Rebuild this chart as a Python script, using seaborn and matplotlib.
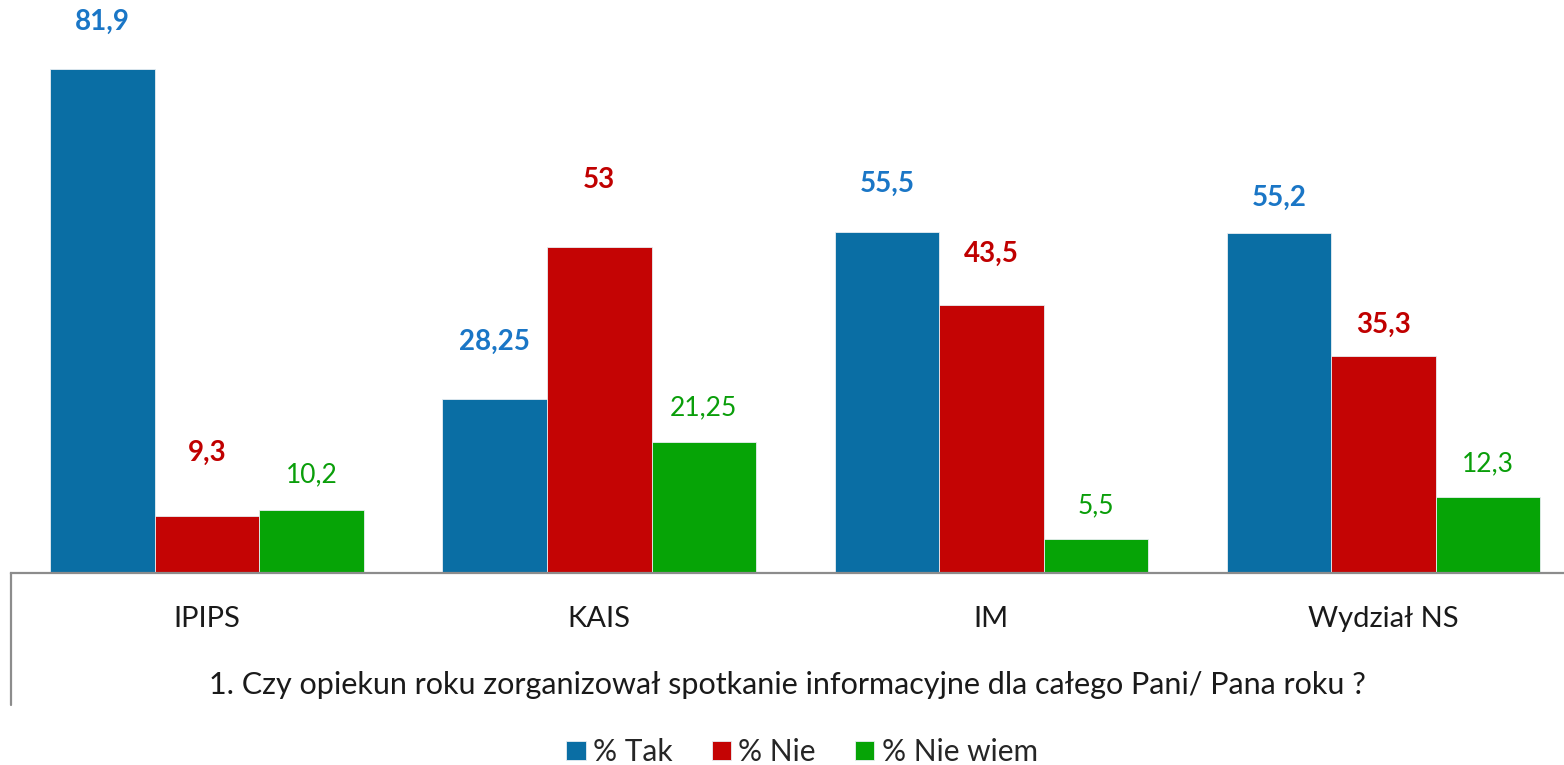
import pandas as pd
import seaborn as sns
import matplotlib.pyplot as plt
from matplotlib.lines import Line2D

# chart data
categories = ["IPIPS", "KAIS", "IM", "Wydział NS"]
series = ["% Tak", "% Nie", "% Nie wiem"]
tak = [81.9, 28.25, 55.5, 55.2]
nie = [9.3, 53, 43.5, 35.3]
nie_wiem = [10.2, 21.25, 5.5, 12.3]
question = "1. Czy opiekun roku zorganizował spotkanie informacyjne dla całego Pani/ Pana roku ?"

bar_colors = ["#0a6ea4", "#c40404", "#06a406"]
text_colors = ["#1a76c6", "#c00000", "#0a9e0a"]
text_weights = ["bold", "bold", "normal"]
text_sizes = [20, 20, 19]
# gap between bar top and label centre, in pixels (as in the original)
label_gap = [[47, 57, 48, 35], [63, 67, 51, 31], [35, 34, 33, 34]]

df = pd.DataFrame({
    "kategoria": categories * 3,
    "seria": [s for s in series for _ in categories],
    "wartosc": tak + nie + nie_wiem,
})

sns.set_theme(style="white")
plt.rcParams["font.family"] = ["Lato", "DejaVu Sans"]

fig = plt.figure(figsize=(15.64, 7.65), dpi=100)
ax = fig.add_axes([11 / 1564, 192 / 765, 1 - 11 / 1564, 563 / 765])

sns.barplot(data=df, x="kategoria", y="wartosc", hue="seria", palette=bar_colors,
            width=0.8, saturation=1, ax=ax, legend=True, edgecolor="#e8eef2", linewidth=0.6)

for i, cont in enumerate(ax.containers):
    for j, bar in enumerate(cont):
        v = bar.get_height()
        ax.annotate(f"{v:g}".replace(".", ","),
                    (bar.get_x() + bar.get_width() / 2, v),
                    xytext=(0, label_gap[i][j] * 0.72), textcoords="offset points",
                    ha="center", va="center", fontsize=text_sizes[i],
                    color=text_colors[i], fontweight=text_weights[i])

ax.set_xlim(-0.5, 3.46)
ax.set_ylim(0, 91.5)
ax.set_yticks([])
ax.set_xlabel(question, fontsize=22, labelpad=28, color="#1a1a1a")
ax.set_ylabel("")
ax.tick_params(axis="x", length=0, pad=24, labelsize=21, labelcolor="#1a1a1a")
for side in ["top", "right", "left"]:
    ax.spines[side].set_visible(False)
ax.spines["bottom"].set_color("#8c8c8c")
ax.spines["bottom"].set_linewidth(1.6)

# left frame line below the axis
fig.add_artist(Line2D([11 / 1564, 11 / 1564], [192 / 765, 60 / 765],
                      color="#8c8c8c", lw=1.6, transform=fig.transFigure))

handles, labels = ax.get_legend_handles_labels()
ax.get_legend().remove()
fig.legend(handles, labels, loc="center", bbox_to_anchor=(802 / 1564, 13 / 765),
           ncol=3, frameon=False, fontsize=21.5, handlelength=0.65, handleheight=0.65,
           handletextpad=0.25, columnspacing=1.3)

fig.savefig("out.png", dpi=100)
